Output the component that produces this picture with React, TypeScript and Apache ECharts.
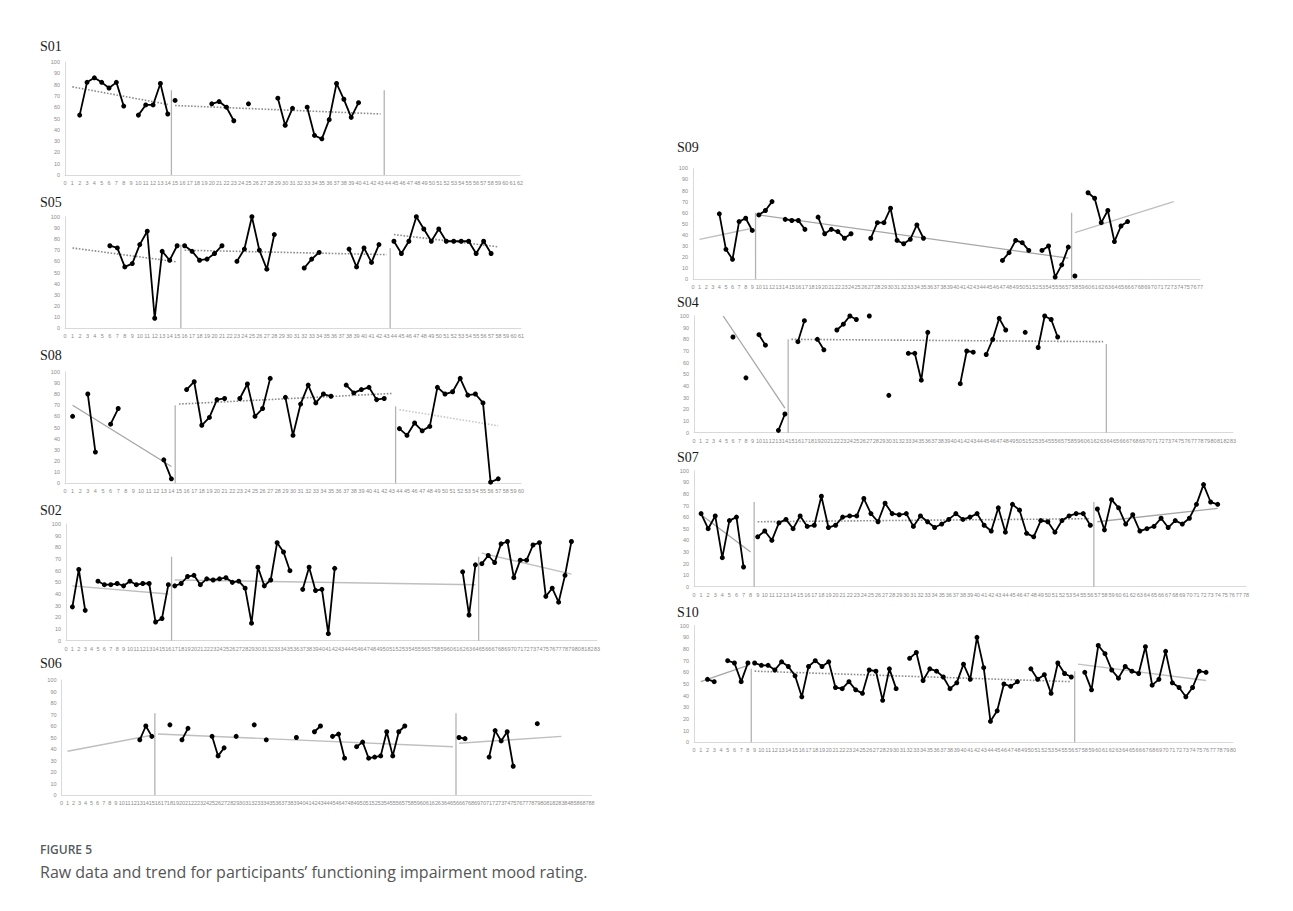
import React, { useEffect, useRef } from "react";
import * as echarts from "echarts";

const _ = null;

// ---- Data (session index = array position) ----
const s01Values = [_, _, 53, 82, 86, 82, 77, 82, 61, _, 53, 62, 62, 81, 54, 66, _, _, _, _, 63, 65, 60, 48, _, 63, _, _, _, 68, 44, 59, _, 60, 35, 32, 49, 81, 67, 51, 64];
const s01Phases = [14.5, 43.5];
const s01PhaseTops = [75, 75];
const s01Trends = [[[1, 78], [14, 62.5]], [[15, 61.5], [43, 54]]];

const s05Values = [_, _, _, _, _, _, 74, 72, 55, 58, 75, 87, 9, 69, 61, 74, 74, 69, 61, 62, 67, 74, _, 60, 71, 100, 70, 53, 84, _, _, _, 54, 62, 68, _, _, _, 71, 55, 72, 59, 75, _, 78, 67, 78, 100, 89, 78, 89, 78, 78, 78, 78, 67, 78, 67];
const s05Phases = [15.5, 43.5];
const s05PhaseTops = [75, 72];
const s05Trends = [[[1, 72], [15, 59.5]], [[16, 70], [43, 66]], [[44, 84], [58, 73]]];

const s08Values = [_, 60, _, 80, 28, _, 53, 67, _, _, _, _, _, 21, 4, _, 84, 91, 52, 59, 75, 76, _, 76, 89, 60, 67, 94, _, 77, 43, 71, 88, 72, 80, 78, _, 88, 81, 84, 86, 75, 76, _, 49, 43, 54, 47, 51, 86, 80, 82, 94, 79, 80, 72, 1, 4];
const s08Phases = [14.5, 43.5];
const s08PhaseTops = [70, 69];
const s08Trends = [[[1, 70], [14, 15]], [[15, 71], [43, 80.5]], [[44, 66], [57, 51.5]]];

const s02Values = [_, 29, 61, 26, _, 51, 48, 48, 49, 47, 51, 48, 49, 49, 16, 19, 48, 47, 49, 55, 56, 48, 53, 52, 53, 54, 50, 51, 45, 15, 63, 47, 52, 84, 76, 60, _, 44, 63, 43, 44, 6, 62, _, _, _, _, _, _, _, _, _, _, _, _, _, _, _, _, _, _, _, 59, 22, 65, 66, 73, 67, 83, 85, 54, 69, 69, 82, 84, 38, 45, 33, 56, 85];
const s02Phases = [16.5, 64.5];
const s02PhaseTops = [72, 72];
const s02Trends = [[[1, 47], [16, 40]], [[17, 52], [64, 48]], [[65, 75], [79, 57]]];

const s06Values = [_, _, _, _, _, _, _, _, _, _, _, _, _, 48, 60, 51, _, _, 61, _, 48, 58, _, _, _, 51, 34, 41, _, 51, _, _, 61, _, 48, _, _, _, _, 50, _, _, 55, 60, _, 51, 53, 32, _, 42, 46, 32, 33, 34, 55, 34, 55, 60, _, _, _, _, _, _, _, _, 50, 49, _, _, _, 33, 56, 47, 55, 25, _, _, _, 62];
const s06Phases = [15.5, 65.5];
const s06PhaseTops = [71, 71];
const s06Trends = [[[1, 38], [15, 52]], [[16, 53], [65, 42]], [[66, 45], [83, 51]]];

const s09Values = [_, _, _, _, 59, 27, 18, 52, 55, 44, 58, 62, 70, _, 54, 53, 53, 45, _, 56, 41, 45, 43, 37, 41, _, _, 37, 51, 51, 64, 35, 32, 36, 49, 37, _, _, _, _, _, _, _, _, _, _, _, 17, 24, 35, 33, 26, _, 26, 30, 2, 13, 29, 3, _, 78, 73, 51, 62, 34, 48, 52];
const s09Phases = [9.5, 57.5];
const s09PhaseTops = [60, 60];
const s09Trends = [[[1, 36], [9, 46]], [[10, 58], [57, 19]], [[58, 42], [73, 70]]];

const s04Values = [_, _, _, _, _, _, 82, _, 47, _, 84, 75, _, 2, 16, _, 78, 96, _, 80, 71, _, 88, 93, 100, 97, _, 100, _, _, 32, _, _, 68, 68, 45, 86, _, _, _, _, 42, 70, 69, _, 67, 80, 98, 88, _, _, 86, _, 73, 100, 97, 82];
const s04Phases = [14.5, 63.5];
const s04PhaseTops = [80, 76];
const s04Trends = [[[4.5, 100], [14, 21]], [[15, 80], [63, 78]]];

const s07Values = [_, 63, 50, 61, 25, 57, 60, 17, _, 43, 48, 40, 55, 58, 50, 61, 52, 53, 78, 51, 53, 60, 61, 61, 76, 63, 56, 72, 63, 62, 63, 52, 61, 56, 51, 54, 58, 63, 58, 60, 63, 53, 48, 68, 47, 71, 66, 46, 43, 57, 56, 47, 57, 61, 63, 63, 53, 67, 49, 75, 68, 54, 62, 48, 50, 52, 59, 51, 57, 54, 59, 71, 88, 73, 71];
const s07Phases = [8.5, 56.5];
const s07PhaseTops = [73, 73];
const s07Trends = [[[1, 62], [8, 30]], [[9, 56], [56, 58.6]], [[57, 56], [74, 67.5]]];

const s10Values = [_, _, 54, 52, _, 70, 68, 52, 68, 68, 66, 66, 62, 69, 65, 57, 39, 65, 70, 65, 69, 47, 46, 52, 45, 42, 62, 61, 36, 63, 46, _, 72, 77, 53, 63, 61, 56, 46, 51, 67, 54, 90, 64, 18, 27, 50, 48, 52, _, 63, 54, 58, 42, 68, 59, 56, _, 60, 45, 83, 76, 62, 55, 65, 61, 59, 82, 49, 54, 78, 51, 47, 39, 47, 61, 60];
const s10Phases = [8.5, 56.5];
const s10PhaseTops = [63, 61];
const s10Trends = [[[1, 52], [8, 66]], [[9, 61], [56, 52]], [[57, 67], [76, 53]]];

const figureLabel = "FIGURE 5";
const figureCaption = "Raw data and trend for participants\u2019 functioning impairment mood rating.";

// ---- Layout / styles ----
type Panel = {
  name: string;
  values: (number | null)[];
  xMax: number;
  phases: number[];
  phaseTops: number[];
  trends: number[][][];
  trendStyles: string[];
  title: [number, number];
  grid: { left: number; top: number; width: number; height: number };
};

const panels: Panel[] = [
  { name: "S01", values: s01Values, xMax: 62, phases: s01Phases, phaseTops: s01PhaseTops, trends: s01Trends, trendStyles: ["dot", "dot"], title: [40, 46], grid: { left: 65, top: 62, width: 455, height: 113 } },
  { name: "S05", values: s05Values, xMax: 61, phases: s05Phases, phaseTops: s05PhaseTops, trends: s05Trends, trendStyles: ["dot", "dot", "dot"], title: [40, 202], grid: { left: 65, top: 216.7, width: 456, height: 111.6 } },
  { name: "S08", values: s08Values, xMax: 60, phases: s08Phases, phaseTops: s08PhaseTops, trends: s08Trends, trendStyles: ["solid", "dot", "lightdot"], title: [40, 355], grid: { left: 65, top: 371.7, width: 456, height: 111.6 } },
  { name: "S02", values: s02Values, xMax: 83, phases: s02Phases, phaseTops: s02PhaseTops, trends: s02Trends, trendStyles: ["light", "light", "light"], title: [40, 510], grid: { left: 66, top: 524, width: 531, height: 116.7 } },
  { name: "S06", values: s06Values, xMax: 88, phases: s06Phases, phaseTops: s06PhaseTops, trends: s06Trends, trendStyles: ["light", "light", "light"], title: [40, 663], grid: { left: 61.5, top: 680, width: 530, height: 115 } },
  { name: "S09", values: s09Values, xMax: 77, phases: s09Phases, phaseTops: s09PhaseTops, trends: s09Trends, trendStyles: ["light", "solid", "light"], title: [677, 147], grid: { left: 693, top: 168.3, width: 507, height: 111 } },
  { name: "S04", values: s04Values, xMax: 83, phases: s04Phases, phaseTops: s04PhaseTops, trends: s04Trends, trendStyles: ["solid", "dot"], title: [677, 302], grid: { left: 694, top: 316, width: 539, height: 116.7 } },
  { name: "S07", values: s07Values, xMax: 78, phases: s07Phases, phaseTops: s07PhaseTops, trends: s07Trends, trendStyles: ["solid", "dot", "solid"], title: [677, 457], grid: { left: 694, top: 470.7, width: 552, height: 116 } },
  { name: "S10", values: s10Values, xMax: 80, phases: s10Phases, phaseTops: s10PhaseTops, trends: s10Trends, trendStyles: ["solid", "dot", "light"], title: [677, 612], grid: { left: 694, top: 625.7, width: 539, height: 116.6 } },
];

const trendLineStyle: Record<string, any> = {
  dot: { color: "#8c8c8c", width: 1.6, type: "dotted" },
  lightdot: { color: "#c8c8c8", width: 1.6, type: "dotted" },
  solid: { color: "#a6a6a6", width: 1.3, type: "solid" },
  light: { color: "#bfbfbf", width: 1.4, type: "solid" },
};

const axisColor = "#d9d9d9";
const labelColor = "#8c8c8c";
const labelFont = "Liberation Sans";

function buildOption() {
  const grid: any[] = [];
  const xAxis: any[] = [];
  const yAxis: any[] = [];
  const series: any[] = [];
  const graphic: any[] = [];

  panels.forEach((p, i) => {
    grid.push({ ...p.grid, containLabel: false });
    xAxis.push({
      type: "value",
      gridIndex: i,
      min: 0,
      max: p.xMax,
      interval: 1,
      axisLine: { show: true, onZero: false, lineStyle: { color: axisColor, width: 1 } },
      axisTick: { show: false },
      splitLine: { show: false },
      axisLabel: { fontSize: 5.5, color: labelColor, margin: 5, fontFamily: labelFont, showMinLabel: true, showMaxLabel: true },
    });
    yAxis.push({
      type: "value",
      gridIndex: i,
      min: 0,
      max: 100,
      interval: 10,
      axisLine: { show: true, lineStyle: { color: axisColor, width: 1 } },
      axisTick: { show: false },
      splitLine: { show: false },
      axisLabel: { fontSize: 5.5, color: labelColor, margin: 5, fontFamily: labelFont },
    });

    // trend lines
    p.trends.forEach((t, k) => {
      series.push({
        type: "line",
        xAxisIndex: i,
        yAxisIndex: i,
        data: t,
        showSymbol: false,
        silent: true,
        z: 1,
        lineStyle: trendLineStyle[p.trendStyles[k]],
      });
    });

    // phase change lines
    p.phases.forEach((ph, k) => {
      series.push({
        type: "line",
        xAxisIndex: i,
        yAxisIndex: i,
        data: [[ph, 0], [ph, p.phaseTops[k]]],
        showSymbol: false,
        silent: true,
        z: 2,
        lineStyle: { color: "#b3b3b3", width: 1.3 },
      });
    });

    // raw data, one series per phase
    const bounds = [-Infinity, ...p.phases, Infinity];
    for (let k = 0; k < bounds.length - 1; k++) {
      const pts = p.values
        .map((v, x) => [x, v == null ? "-" : v])
        .filter(([x]) => (x as number) > bounds[k] && (x as number) < bounds[k + 1]);
      series.push({
        type: "line",
        xAxisIndex: i,
        yAxisIndex: i,
        data: pts,
        connectNulls: false,
        showSymbol: true,
        symbol: "circle",
        symbolSize: 5,
        z: 3,
        itemStyle: { color: "#000" },
        lineStyle: { color: "#000", width: 1.8 },
      });
    }

    graphic.push({
      type: "text",
      x: p.title[0],
      y: p.title[1],
      style: { text: p.name, font: '14px "Liberation Serif"', fill: "#1a1a1a", verticalAlign: "middle", align: "left" },
    });
  });

  graphic.push({
    type: "text",
    x: 40,
    y: 849,
    style: { text: figureLabel, font: '600 12px "Open Sans"', fill: "#555b5e", verticalAlign: "middle" },
  });
  graphic.push({
    type: "text",
    x: 40,
    y: 872,
    style: { text: figureCaption, font: '16px "Open Sans"', fill: "#555555", verticalAlign: "middle" },
  });

  return {
    animation: false,
    backgroundColor: "#ffffff",
    grid,
    xAxis,
    yAxis,
    series,
    graphic,
  };
}

export default function App() {
  const ref = useRef<HTMLDivElement>(null);
  useEffect(() => {
    const chart = echarts.init(ref.current!, null, { renderer: "svg" });
    chart.setOption(buildOption() as any);
    return () => chart.dispose();
  }, []);
  return (
    <div
      ref={ref}
      style={{ position: "absolute", left: 0, top: 0, width: 1293, height: 911, background: "#fff" }}
    />
  );
}
